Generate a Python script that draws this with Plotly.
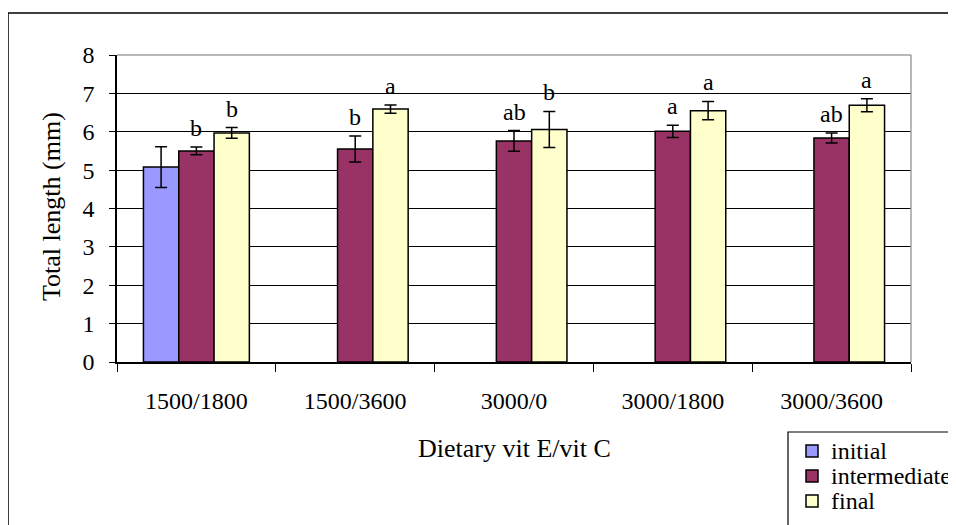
import plotly.graph_objects as go

# data
diets = ['1500/1800', '1500/3600', '3000/0', '3000/1800', '3000/3600']
initial = [5.08, None, None, None, None]
initial_err = [0.53, 0, 0, 0, 0]
intermediate = [5.50, 5.55, 5.76, 6.01, 5.84]
intermediate_err = [0.10, 0.34, 0.27, 0.16, 0.13]
final = [5.97, 6.59, 6.06, 6.55, 6.69]
final_err = [0.14, 0.11, 0.47, 0.24, 0.17]
intermediate_letters = ['b', 'b', 'ab', 'a', 'ab']
final_letters = ['b', 'a', 'b', 'a', 'a']

# the page body has an 8px margin, so the figure starts at (8, 8) on screen
OFF = 8
W, H = 956 - OFF, 525 - OFF
L, R, T, B = 117, 911, 55, 362   # plot area in screen pixels
FONT = 'Liberation Serif'
BARGAP = 0.333


def px(x):
    return (x - L) / (R - L)


def py(y):
    return (B - y) / (B - T)


fig = go.Figure()
series = [('initial', initial, initial_err, '#9999FF'),
          ('intermediate', intermediate, intermediate_err, '#993366'),
          ('final', final, final_err, '#FFFFCC')]
for name, vals, errs, color in series:
    fig.add_trace(go.Bar(
        x=diets, y=vals, name=name, showlegend=False,
        marker=dict(color=color, line=dict(color='black', width=1.5)),
        error_y=dict(type='data', array=errs, color='black', thickness=1.5, width=6),
    ))

# significance letters above the error bars
cat_w = (R - L) / len(diets)
bar_w = cat_w * (1 - BARGAP) / 3
annotations = []
for vals, errs, letters, shift in [(intermediate, intermediate_err, intermediate_letters, 0),
                                   (final, final_err, final_letters, bar_w)]:
    for d, v, e, t in zip(diets, vals, errs, letters):
        annotations.append(dict(x=d, y=v + e, text=t, showarrow=False, xshift=shift,
                                yshift=19, yanchor='middle', font=dict(family=FONT, size=24, color='black')))

# axis titles
annotations.append(dict(x=px(514), y=py(448), xref='paper', yref='paper', text='Dietary vit E/vit C',
                        xanchor='center', yanchor='middle', showarrow=False,
                        font=dict(family=FONT, size=26, color='black')))
annotations.append(dict(x=px(51), y=py(207), xref='paper', yref='paper', text='Total length (mm)',
                        textangle=-90, xanchor='center', yanchor='middle', showarrow=False,
                        font=dict(family=FONT, size=26, color='black')))

shapes = [
    dict(type='rect', xref='paper', yref='paper', x0=px(8), x1=px(970), y0=py(540), y1=py(13),
         line=dict(color='black', width=1.5), layer='below'),
    dict(type='line', xref='paper', yref='paper', x0=0, x1=1, y0=1, y1=1,
         line=dict(color='#A0A0A0', width=1.5)),
    dict(type='line', xref='paper', yref='paper', x0=1, x1=1, y0=0, y1=1,
         line=dict(color='#A0A0A0', width=1.5)),
    dict(type='rect', xref='paper', yref='paper', x0=px(788), x1=px(970), y0=py(540), y1=py(432),
         line=dict(color='black', width=1.2), fillcolor='white'),
]
# legend drawn by hand
for i, (name, vals, errs, color) in enumerate(series):
    cy = 451 + 25 * i
    shapes.append(dict(type='rect', xref='paper', yref='paper', x0=px(806), x1=px(818),
                       y0=py(cy + 6), y1=py(cy - 6), fillcolor=color,
                       line=dict(color='black', width=1.5)))
    annotations.append(dict(x=px(829), y=py(cy), xref='paper', yref='paper', text=name,
                            xanchor='left', yanchor='middle', showarrow=False,
                            font=dict(family=FONT, size=24, color='black')))

fig.update_layout(
    width=W, height=H,
    margin=dict(l=L - OFF, r=956 - R, t=T - OFF, b=525 - B),
    paper_bgcolor='white', plot_bgcolor='white',
    barmode='group', bargap=BARGAP, bargroupgap=0,
    font=dict(family=FONT, size=24, color='black'),
    showlegend=False,
    shapes=shapes, annotations=annotations,
    xaxis=dict(type='category', showline=True, linecolor='black', linewidth=1.5,
               ticks='outside', tickson='boundaries', ticklen=8, tickcolor='black',
               ticklabelstandoff=16, showgrid=False,
               tickfont=dict(family=FONT, size=24)),
    yaxis=dict(range=[0, 8], dtick=1, showline=True, linecolor='black', linewidth=1.5,
               ticks='outside', ticklen=6, tickcolor='black', ticklabelstandoff=10,
               gridcolor='black', gridwidth=1, zeroline=False,
               tickfont=dict(family=FONT, size=24)),
)

fig.write_html("out.html")
